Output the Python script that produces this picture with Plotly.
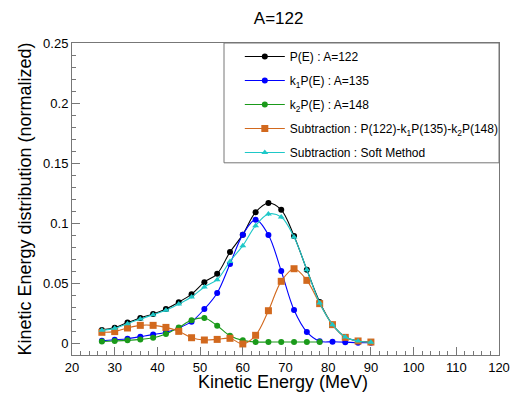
import plotly.graph_objects as go

energy = [27, 30, 33, 36, 39, 42, 45, 48, 51, 54, 57, 60, 63, 66, 69, 72, 75, 78, 81, 84, 87, 90]
energy_green = energy[:18]

p_122 = [0.0109, 0.0128, 0.0170, 0.0209, 0.0242, 0.0284, 0.0340, 0.0407, 0.0507, 0.0577, 0.0758, 0.0903,
         0.1090, 0.1167, 0.1110, 0.0892, 0.0610, 0.0342, 0.0153, 0.0050, 0.0016, 0.0008]
k1p_135 = [0.0019, 0.0027, 0.0036, 0.0053, 0.0070, 0.0090, 0.0125, 0.0178, 0.0283, 0.0417, 0.0658, 0.0903,
           0.1028, 0.0900, 0.0600, 0.0275, 0.0092, 0.0014, 0.0010, 0.0007, 0.0003, 0.0003]
k2p_148 = [0.0013, 0.0017, 0.0022, 0.0030, 0.0044, 0.0075, 0.0130, 0.0189, 0.0208, 0.0144, 0.0061, 0.0022,
           0.0008, 0.0008, 0.0008, 0.0008, 0.0008, 0.0008]
subtraction = [0.0089, 0.0095, 0.0125, 0.0147, 0.0147, 0.0130, 0.0097, 0.0044, 0.0025, 0.0030, 0.0039, -0.0008,
               0.0064, 0.0269, 0.0514, 0.0619, 0.0522, 0.0328, 0.0153, 0.0047, 0.0017, 0.0008]
soft_method = [0.0106, 0.0122, 0.0161, 0.0200, 0.0236, 0.0272, 0.0325, 0.0383, 0.0467, 0.0528, 0.0680, 0.0811,
               0.0978, 0.1075, 0.1050, 0.0883, 0.0610, 0.0333, 0.0153, 0.0050, 0.0016, 0.0007]

err_black = [0.0006, 0.0006, 0.0007, 0.0008, 0.0008, 0.0009, 0.0010, 0.0011, 0.0012, 0.0013, 0.0014, 0.0015,
             0.0016, 0.0017, 0.0016, 0.0015, 0.0013, 0.0010, 0.0007, 0.0004, 0.0002, 0.0002]
err_green = [0.0004, 0.0004, 0.0005, 0.0006, 0.0008, 0.0010, 0.0014, 0.0018, 0.0020, 0.0016, 0.0010, 0.0006,
             0.0003, 0.0003, 0.0003, 0.0003, 0.0003, 0.0003]

series = [
    ("P(E) : A=122", energy, p_122, err_black, "black", "circle", 6),
    ("k<sub>1</sub>P(E) : A=135", energy, k1p_135, err_black, "#0000ff", "circle", 6),
    ("k<sub>2</sub>P(E) : A=148", energy_green, k2p_148, err_green, "#1a9a1a", "circle", 6),
    ("Subtraction : P(122)-k<sub>1</sub>P(135)-k<sub>2</sub>P(148)", energy, subtraction, err_black, "#d2691e", "square", 7),
    ("Subtraction : Soft Method", energy, soft_method, err_black, "#1ec8c8", "triangle-up", 6),
]

fig = go.Figure()
for i, (name, xs, ys, es, col, sym, sz) in enumerate(series):
    fig.add_trace(go.Scatter(
        x=xs, y=ys, name=name, mode="lines+markers",
        line=dict(color=col, width=1.1, shape="spline", smoothing=1.0),
        marker=dict(color=col, symbol=sym, size=sz),
        error_y=dict(type="data", array=es, visible=True, color=col, thickness=1, width=0),
        legendgroup=f"g{i}",
    ))

# the page body adds an 8px margin, so the figure is sized to fit inside the 522x401 window
fig.update_layout(
    width=506, height=385,
    margin=dict(l=64, r=10, t=35, b=38),
    paper_bgcolor="white", plot_bgcolor="white",
    font=dict(family="Liberation Sans, Arial, sans-serif", color="black"),
    title=dict(text="A=122", xref="paper", x=0.484, xanchor="center",
               yref="container", y=0.974, yanchor="middle",
               font=dict(size=17)),
    showlegend=True,
    legend=dict(x=0.393, y=1.003, xanchor="left", yanchor="top",
                bgcolor="rgba(0,0,0,0)", borderwidth=0,
                font=dict(size=12), tracegroupgap=5, itemwidth=40),
    shapes=[dict(type="rect", xref="paper", yref="paper", x0=0.356, x1=1.0, y0=0.616, y1=1.0,
                 line=dict(color="#777", width=1), fillcolor="rgba(0,0,0,0)", layer="above")],
    annotations=[dict(text="Kinetic Energy (MeV)", xref="paper", yref="paper", x=0.494, y=-0.088,
                      xanchor="center", yanchor="middle", showarrow=False, font=dict(size=18))],
)

fig.update_xaxes(
    range=[20, 120], tickmode="linear", tick0=20, dtick=10,
    ticks="inside", ticklen=8, tickcolor="#777", tickwidth=1,
    minor=dict(ticks="inside", ticklen=4, dtick=2, tickcolor="#777", showgrid=False),
    showline=True, linecolor="#777", linewidth=1, mirror=True,
    showgrid=False, zeroline=False, automargin=False,
    tickfont=dict(size=13),
)
fig.update_yaxes(
    range=[-0.01, 0.25], tickvals=[0, 0.05, 0.1, 0.15, 0.2, 0.25],
    ticktext=["0", "0.05", "0.1", "0.15", "0.2", "0.25"],
    ticks="inside", ticklen=8, tickcolor="#777", tickwidth=1,
    minor=dict(ticks="inside", ticklen=4, tickvals=[round(-0.01 + 0.01 * k, 2) for k in range(27)],
               tickcolor="#777", showgrid=False),
    showline=True, linecolor="#777", linewidth=1, mirror=True,
    showgrid=False, zeroline=False, automargin=False,
    tickfont=dict(size=13),
    title=dict(text="Kinetic Energy distribution (normalized)", font=dict(size=18), standoff=6),
)

fig.write_html("out.html")
